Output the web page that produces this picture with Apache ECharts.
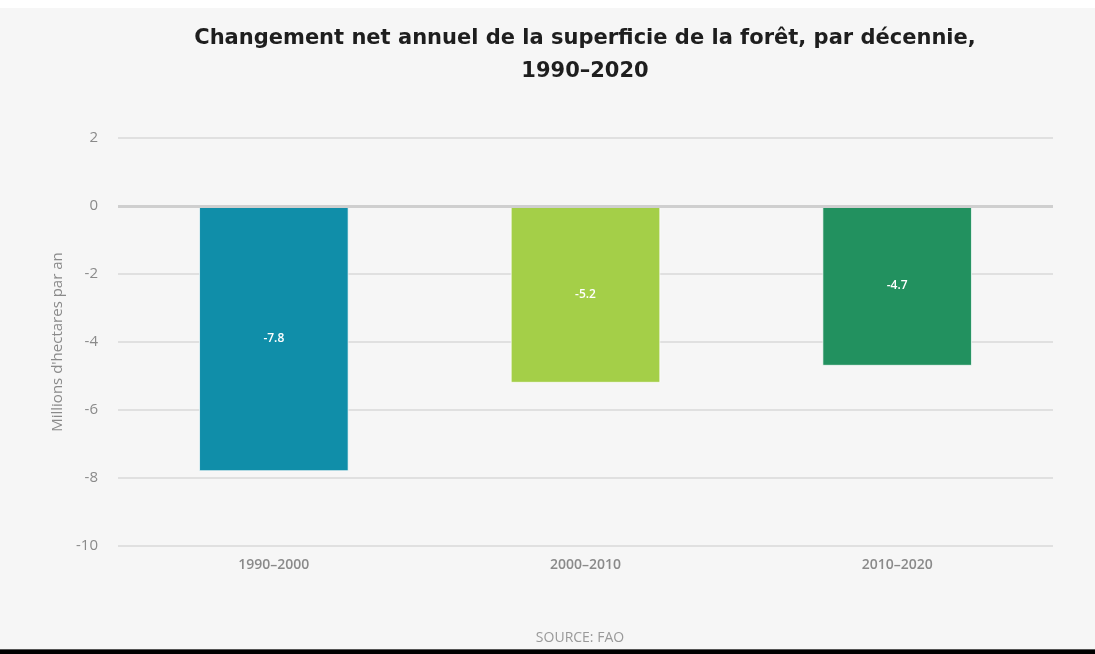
<!DOCTYPE html>
<html>
<head>
<meta charset="utf-8">
<script src="https://cdn.jsdelivr.net/npm/echarts@6/dist/echarts.min.js"></script>
<style>
  html, body {
    margin: 0;
    padding: 0;
  }
  body {
    width: 1095px;
    height: 654px;
    background: linear-gradient(to bottom, #fff 0, #fff 8px, #f6f6f6 8px, #f6f6f6 649px, #555 649px, #555 650px, #000 650px);
  }
  #chart {
    width: 1095px;
    height: 654px;
  }
</style>
</head>
<body>
<div id="chart"></div>
<script>
// décennies et changement net (millions d'hectares par an)
const decades = ["1990–2000", "2000–2010", "2010–2020"];
const netChange = [-7.8, -5.2, -4.7];
const barColors = ["#108ea9", "#a4cf48", "#22915f"];

const chart = echarts.init(document.getElementById("chart"));

const option = {
  backgroundColor: "transparent",
  textStyle: { fontFamily: "'Open Sans', sans-serif" },
  title: [
    {
      text: "Changement net annuel de la superficie de la forêt, par décennie,\n1990–2020",
      left: 580,
      top: 17,
      textAlign: "center",
      textStyle: {
        fontFamily: "'DejaVu Sans', sans-serif",
        fontSize: 21,
        fontWeight: "bold",
        color: "#1e1e1e",
        lineHeight: 33
      }
    },
    {
      text: "SOURCE: FAO",
      left: 575,
      top: 626,
      textAlign: "center",
      textStyle: {
        fontSize: 14,
        fontWeight: "normal",
        color: "#999"
      }
    }
  ],
  grid: {
    left: 118,
    right: 42,
    top: 138,
    bottom: 108
  },
  xAxis: {
    type: "category",
    data: decades,
    axisLine: { show: false },
    axisTick: { show: false },
    axisLabel: {
      margin: 12,
      fontSize: 14,
      fontWeight: 600,
      color: "#8a8a8a"
    }
  },
  yAxis: {
    type: "value",
    min: -10,
    max: 2,
    interval: 2,
    name: "Millions d'hectares par an",
    nameLocation: "middle",
    nameGap: 53,
    nameTextStyle: { fontSize: 15, color: "#8a8a8a" },
    axisLine: { show: false },
    axisTick: { show: false },
    axisLabel: {
      margin: 20,
      fontSize: 15,
      color: "#8a8a8a"
    },
    splitLine: {
      lineStyle: { color: "#e0e0e0", width: 2 }
    }
  },
  series: [
    {
      type: "bar",
      data: netChange.map((v, i) => ({
        value: v,
        itemStyle: { color: barColors[i] }
      })),
      barWidth: "48%",
      itemStyle: {
        borderColor: "rgba(255,255,255,0.7)",
        borderWidth: 1
      },
      label: {
        show: true,
        position: "inside",
        color: "#fff",
        fontSize: 12,
        fontWeight: 600
      },
      markLine: {
        silent: true,
        symbol: "none",
        label: { show: false },
        lineStyle: { color: "#cfcfcf", width: 3, type: "solid" },
        data: [{ yAxis: 0 }]
      },
      z: 3
    }
  ]
};

chart.setOption(option);
</script>
</body>
</html>
